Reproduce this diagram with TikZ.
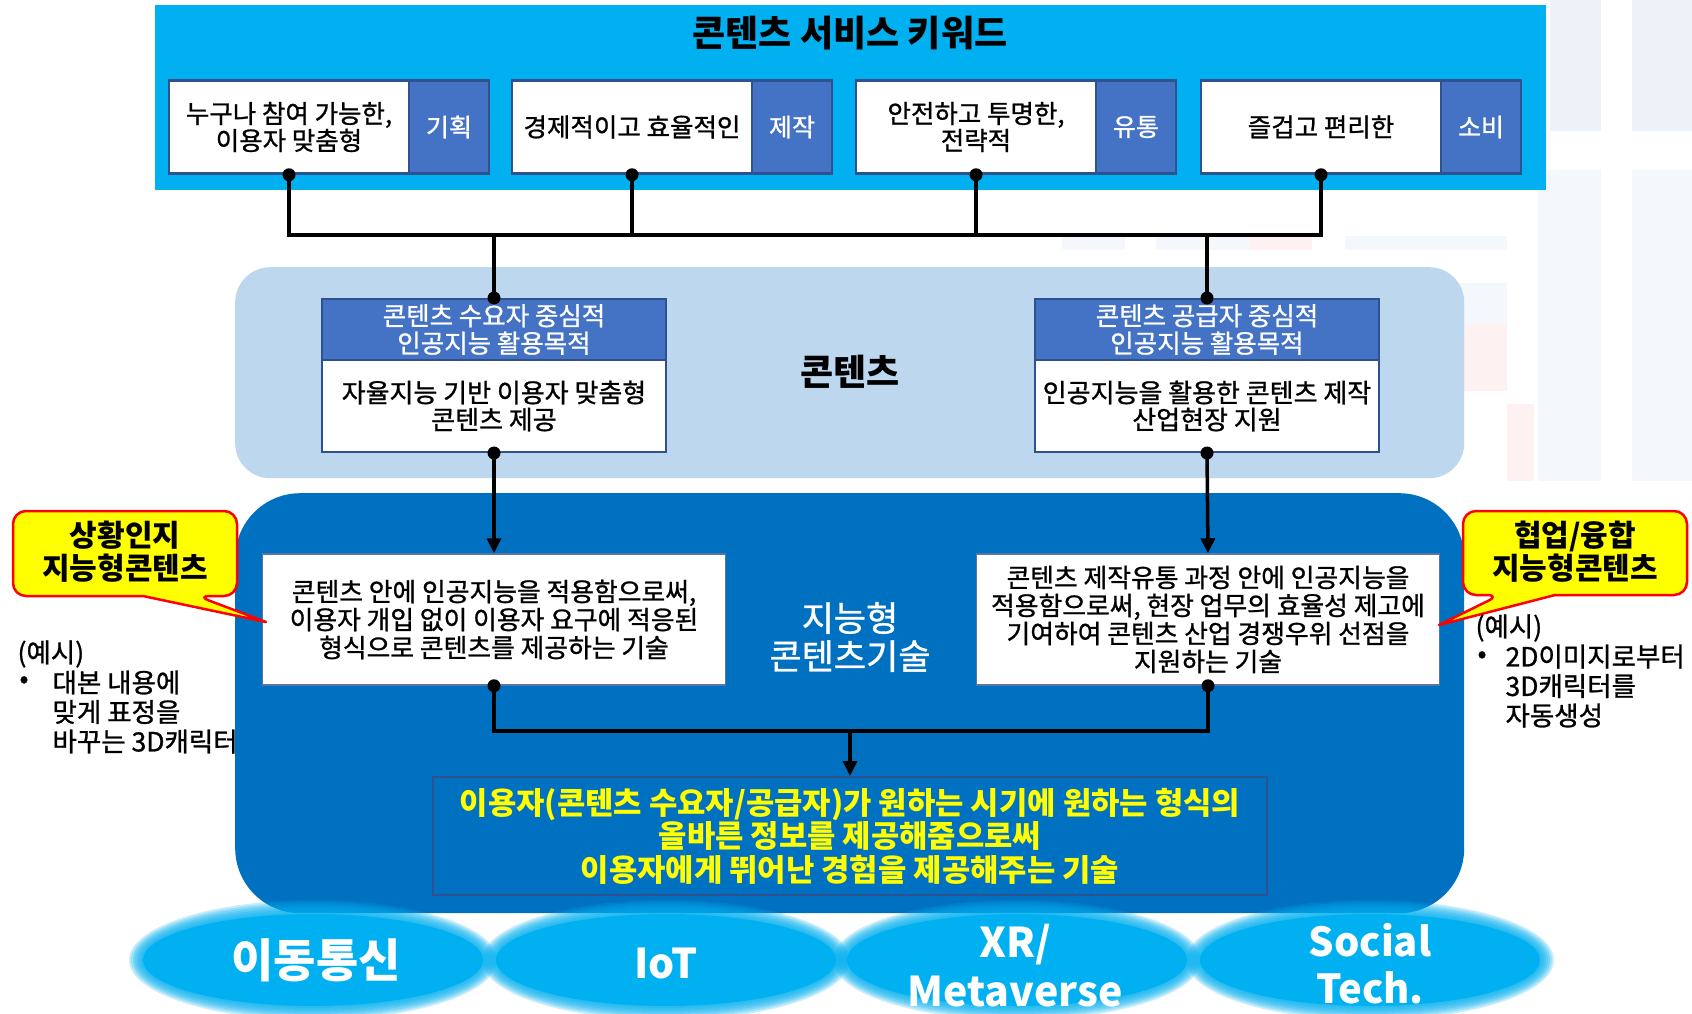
\documentclass[tikz,border=0pt]{standalone}
\usepackage{fontspec}
\setmainfont{Noto Sans CJK KR}
\newfontfamily\bodyfont{Noto Sans CJK KR}[FakeBold=1]
\usetikzlibrary{arrows.meta,calc}
\definecolor{cyanbg}{HTML}{00B0F0}
\definecolor{tagblue}{HTML}{4472C4}
\definecolor{edgeblue}{HTML}{2F528F}
\definecolor{lightbox}{HTML}{BDD7EE}
\definecolor{darkbox}{HTML}{0070C0}
\definecolor{callyel}{HTML}{FFFF00}
\definecolor{callred}{HTML}{FF0000}
\definecolor{wmblue}{HTML}{EDF1F8}
\definecolor{wmpale}{HTML}{F4F7FB}
\definecolor{wmpink}{HTML}{FDF1F1}
\tikzset{
  kbox/.style={draw=edgeblue, line width=2.5pt, fill=white, minimum width=240pt, minimum height=93pt, inner sep=1pt, align=center, font=\bodyfont\fontsize{25.5}{27}\selectfont},
  ktag/.style={draw=edgeblue, line width=2.5pt, fill=tagblue, text=white, minimum width=80pt, minimum height=93pt, inner sep=0pt, font=\bodyfont\fontsize{25}{27}\selectfont},
  hbox/.style={draw=edgeblue, line width=2pt, fill=tagblue, text=white, minimum width=344pt, minimum height=61pt, inner sep=0pt, align=center, font=\bodyfont\fontsize{25.5}{27.5}\selectfont},
  bbox/.style={draw=edgeblue, line width=2pt, fill=white, minimum width=344pt, minimum height=92pt, inner sep=0pt, align=center, font=\bodyfont\fontsize{26}{27}\selectfont},
  lbox/.style={draw=edgeblue!80, line width=1.5pt, fill=white, minimum width=463pt, minimum height=131pt, inner sep=0pt, align=center, font=\bodyfont\fontsize{25.8}{28}\selectfont},
  conn/.style={line width=3.5pt, black},
  arr/.style={conn, -{Triangle[length=15pt,width=14pt]}},
  dot/.style={circle, fill=black, inner sep=0pt, minimum size=13pt},
  callout/.style={draw=callred, line width=2.5pt, fill=callyel, line join=round},
  calltext/.style={font=\bfseries\fontsize{30}{33}\selectfont, align=center},
  extext/.style={font=\bodyfont\fontsize{26.5}{29.5}\selectfont, align=left},
  elltext/.style={text=white, font=\bfseries\fontsize{41}{49}\selectfont, align=center},
}
\begin{document}
\begin{tikzpicture}[x=1pt,y=-1pt]
\useasboundingbox (0,0) rectangle (1692,1013);
\fill[white] (0,0) rectangle (1692,1013);
% faint watermark
\fill[wmblue] (1632,0) rectangle (1692,131);
\fill[wmblue] (1550,0) rectangle (1601,131);
\fill[wmpale] (1538,170) rectangle (1601,481);
\fill[wmpale] (1632,170) rectangle (1692,481);
\fill[wmpale] (1345,283) rectangle (1507,365);
\fill[wmpink] (1464,324) rectangle (1507,391);
\fill[wmpink] (1507,404) rectangle (1534,481);
\fill[wmpale] (1062,236) rectangle (1125,250);
\fill[wmpale] (1156,236) rectangle (1250,250);
\fill[wmpink] (1250,236) rectangle (1312,250);
\fill[wmpale] (1345,236) rectangle (1507,250);

% top panel
\node[fill=cyanbg, minimum width=1391pt, minimum height=185pt, inner sep=0pt, anchor=north west] (kwpanel) at (155,5) {};
\node[font=\bfseries\fontsize{36}{40}\selectfont] (title) at (850,33) {콘텐츠 서비스 키워드};

% middle panel
\node[fill=lightbox, rounded corners=35pt, minimum width=1229pt, minimum height=211pt, inner sep=0pt, anchor=north west] (midpanel) at (235,267) {};
\node[font=\bfseries\fontsize{36}{40}\selectfont] (midlabel) at (850,372) {콘텐츠};

% dark panel
\node[fill=darkbox, rounded corners=65pt, minimum width=1229pt, minimum height=420pt, inner sep=0pt, anchor=north west] (darkpanel) at (235,493) {};
\node[text=white, font=\bodyfont\fontsize{35}{38}\selectfont, align=center] (darklabel) at (850,637) {지능형\\콘텐츠기술};

% keyword boxes
\node[kbox] (k1) at (289,127) {누구나 참여 가능한,\\이용자 맞춤형};
\node[ktag] (t1) at (449,127) {기획};
\node[kbox] (k2) at (632,127) {경제적이고 효율적인};
\node[ktag] (t2) at (792,127) {제작};
\node[kbox] (k3) at (976,127) {안전하고 투명한,\\전략적};
\node[ktag] (t3) at (1136,127) {유통};
\node[kbox] (k4) at (1321,127) {즐겁고 편리한};
\node[ktag] (t4) at (1481,127) {소비};

% bus connectors
\coordinate (bus) at (850,235);
\draw[conn] (k1.south) |- (k3.south |- bus) -- (k3.south);
\draw[conn] (k2.south) -- (k2.south |- bus);
\draw[conn] (k4.south) |- (k3.south |- bus);

% middle boxes
\node[hbox] (m1h) at (494,329.5) {콘텐츠 수요자 중심적\\인공지능 활용목적};
\node[bbox] (m1b) at (494,406) {자율지능 기반 이용자 맞춤형\\콘텐츠 제공};
\node[hbox] (m2h) at (1207,329.5) {콘텐츠 공급자 중심적\\인공지능 활용목적};
\node[bbox] (m2b) at (1207,406) {인공지능을 활용한 콘텐츠 제작\\산업현장 지원};

\draw[conn] (m1h.north |- bus) -- (m1h.north);
\draw[conn] (m2h.north |- bus) -- (m2h.north);

% lower boxes
\node[lbox] (L1) at (494,619.5) {콘텐츠 안에 인공지능을 적용함으로써,\\이용자 개입 없이 이용자 요구에 적응된\\형식으로 콘텐츠를 제공하는 기술};
\node[lbox] (L2) at (1208,619.5) {콘텐츠 제작유통 과정 안에 인공지능을\\적용함으로써, 현장 업무의 효율성 제고에\\기여하여 콘텐츠 산업 경쟁우위 선점을\\지원하는 기술};

\draw[arr] (m1b.south) -- (L1.north);
\draw[arr] (m2b.south) -- (L2.north);

% bottom box
\node[draw=edgeblue, line width=2pt, fill=darkbox, minimum width=834pt, minimum height=118pt, inner sep=0pt, align=center, text=callyel, font=\bfseries\fontsize{30.8}{33.5}\selectfont] (B) at (850,836) {이용자(콘텐츠 수요자/공급자)가 원하는 시기에 원하는 형식의\\올바른 정보를 제공해줌으로써\\이용자에게 뛰어난 경험을 제공해주는 기술};

\coordinate (hub) at (850,731);
\draw[conn] (L1.south) |- (hub) -| (L2.south);
\draw[arr] (hub) -- (B.north);

% dots
\node[dot] (d1) at (k1.south) {};
\node[dot] (d2) at (k2.south) {};
\node[dot] (d3) at (k3.south) {};
\node[dot] (d4) at (k4.south) {};
\node[dot] (d5) at (m1h.north) {};
\node[dot] (d6) at (m2h.north) {};
\node[dot] (d7) at (m1b.south) {};
\node[dot] (d8) at (m2b.south) {};
\node[dot] (d9) at (L1.south) {};
\node[dot] (d10) at (L2.south) {};

% callouts
\draw[callout, rounded corners=13pt] (80,596) -- (13,596) -- (13,511) -- (237,511) -- (237,596) -- (197,596) [sharp corners] -- (266,622) -- (143,596) -- cycle;
\node[calltext] (c1) at (125,552) {상황인지\\지능형콘텐츠};
\draw[callout, rounded corners=13pt] (1600,595) -- (1687,595) -- (1687,511) -- (1463,511) -- (1463,595) -- (1500,595) [sharp corners] -- (1439,625) -- (1555,595) -- cycle;
\node[calltext] (c2) at (1575,552) {협업/융합\\지능형콘텐츠};

% example texts
\node[extext, anchor=west] (ex1) at (14,654) {(예시)};
\node[extext, anchor=west] (b1) at (16,682) {•};
\node[extext, anchor=west] (ex1t) at (49,712) {대본 내용에\\맞게 표정을\\바꾸는 3D캐릭터};
\node[extext, anchor=west] (ex2) at (1472,628) {(예시)};
\node[extext, anchor=west] (b2) at (1474,657) {•};
\node[extext, anchor=west] (ex2t) at (1502,686) {2D이미지로부터\\3D캐릭터를\\자동생성};

% ellipses
\foreach \cx in {313,666,1017,1370}{
  \foreach \d in {14,12,10,8,6,4,2}{
    \fill[cyanbg, opacity=0.22] (\cx,960) ellipse [x radius=170+\d, y radius=46+\d];
  }
  \fill[cyanbg] (\cx,960) ellipse [x radius=170, y radius=46];
}
\node[elltext, font=\bfseries\fontsize{46}{49}\selectfont] (e1) at (316,960) {이동통신};
\node[elltext] (e2) at (666,963) {IoT};
\node[elltext] (e3) at (1015,966) {XR/\\Metaverse};
\node[elltext, font=\bfseries\fontsize{40}{47}\selectfont] (e4) at (1370,964) {Social\\Tech.};
\end{tikzpicture}
\end{document}
